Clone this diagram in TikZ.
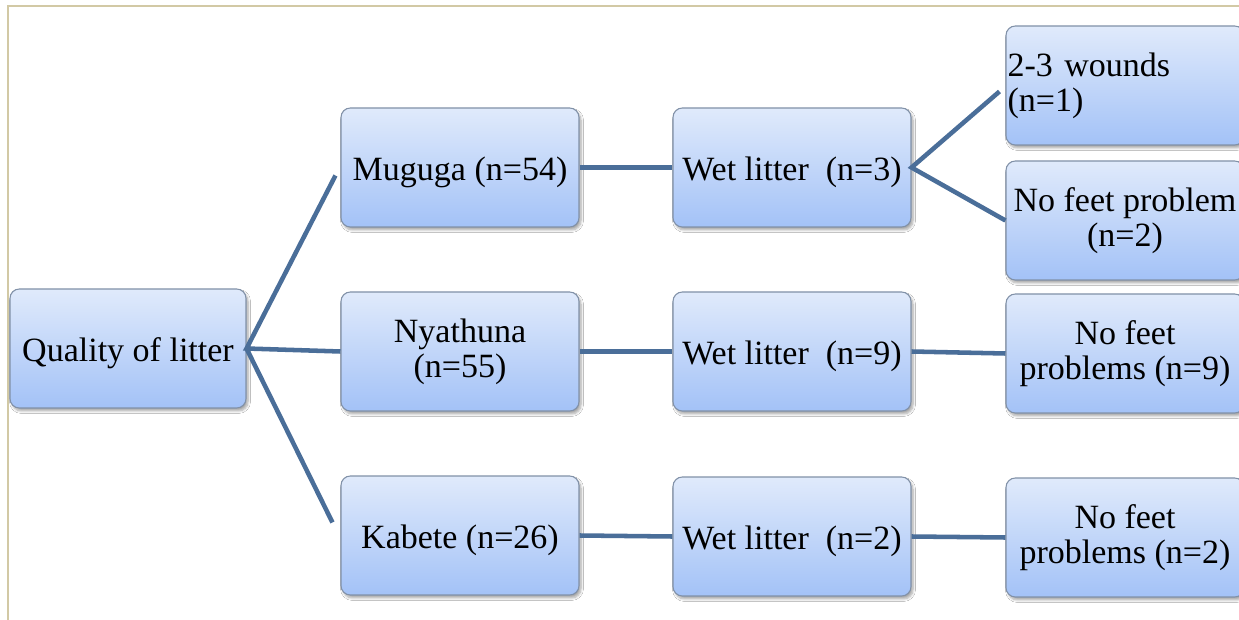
\documentclass[tikz,border=0pt]{standalone}
\usepackage{fontspec}
\setmainfont{Liberation Serif}
\usetikzlibrary{shadows.blur}
\definecolor{boxtop}{HTML}{E0EAFB}
\definecolor{boxbot}{HTML}{A3C2F7}
\definecolor{boxline}{HTML}{8191A8}
\definecolor{linkcol}{HTML}{4A6E99}
\definecolor{framecol}{HTML}{D2C9A5}
\tikzset{
  box/.style={rectangle, rounded corners=7pt, draw=boxline, line width=0.8pt,
    top color=boxtop, bottom color=boxbot, minimum width=178.5pt,
    minimum height=89.25pt, inner sep=1pt, align=center,
    font=\fontsize{25.5}{26.5}\selectfont,
    blur shadow={shadow xshift=1.5pt, shadow yshift=-2.2pt, shadow blur steps=6, shadow opacity=35}},
  oneline/.style={text height=23pt, text depth=4pt},
  link/.style={draw=linkcol, line width=3.4pt}
}
\begin{document}
\begin{tikzpicture}[x=0.75pt, y=-0.75pt]
\clip (0,0) rectangle (1239,620);
\fill[white] (0,0) rectangle (1239,620);
\draw[framecol, line width=1.5pt] (8,625) -- (8,6) -- (1245,6);

\node[box, oneline, minimum width=177pt] (Q) at (128,348.5) {Quality of litter};
\node[box, oneline] (Mug) at (460,167.5) {Muguga (n=54)};
\node[box] (Nya) at (460,351.5) {Nyathuna\\(n=55)};
\node[box, oneline] (Kab) at (460,535.5) {Kabete (n=26)};
\node[box, oneline] (W1) at (792,167.5) {Wet litter~ (n=3)};
\node[box, oneline] (W2) at (792,351.5) {Wet litter~ (n=9)};
\node[box, oneline] (W3) at (792,536.5) {Wet litter~ (n=2)};
\node[box, text width=176pt, align=left] (R1) at (1125,85.5) {2-3 wounds\\(n=1)};
\node[box] (R2) at (1125,220.5) {No feet problem\\(n=2)};
\node[box] (R3) at (1125,353.5) {No feet\\problems (n=9)};
\node[box] (R4) at (1125,537.5) {No feet\\problems (n=2)};

\draw[link] ([shift={(-5,8)}]Mug.west) -- (Q.east) -- (Nya.west);
\draw[link] (Q.east) -- ([shift={(-8,-13)}]Kab.west);
\draw[link] (Mug.east) -- (W1.west);
\draw[link] (Nya.east) -- (W2.west);
\draw[link] (Kab.east) -- (W3.west);
\draw[link] ([shift={(-6,6)}]R1.west) -- (W1.east) -- (R2.west);
\draw[link] (W2.east) -- (R3.west);
\draw[link] (W3.east) -- (R4.west);
\end{tikzpicture}
\end{document}
